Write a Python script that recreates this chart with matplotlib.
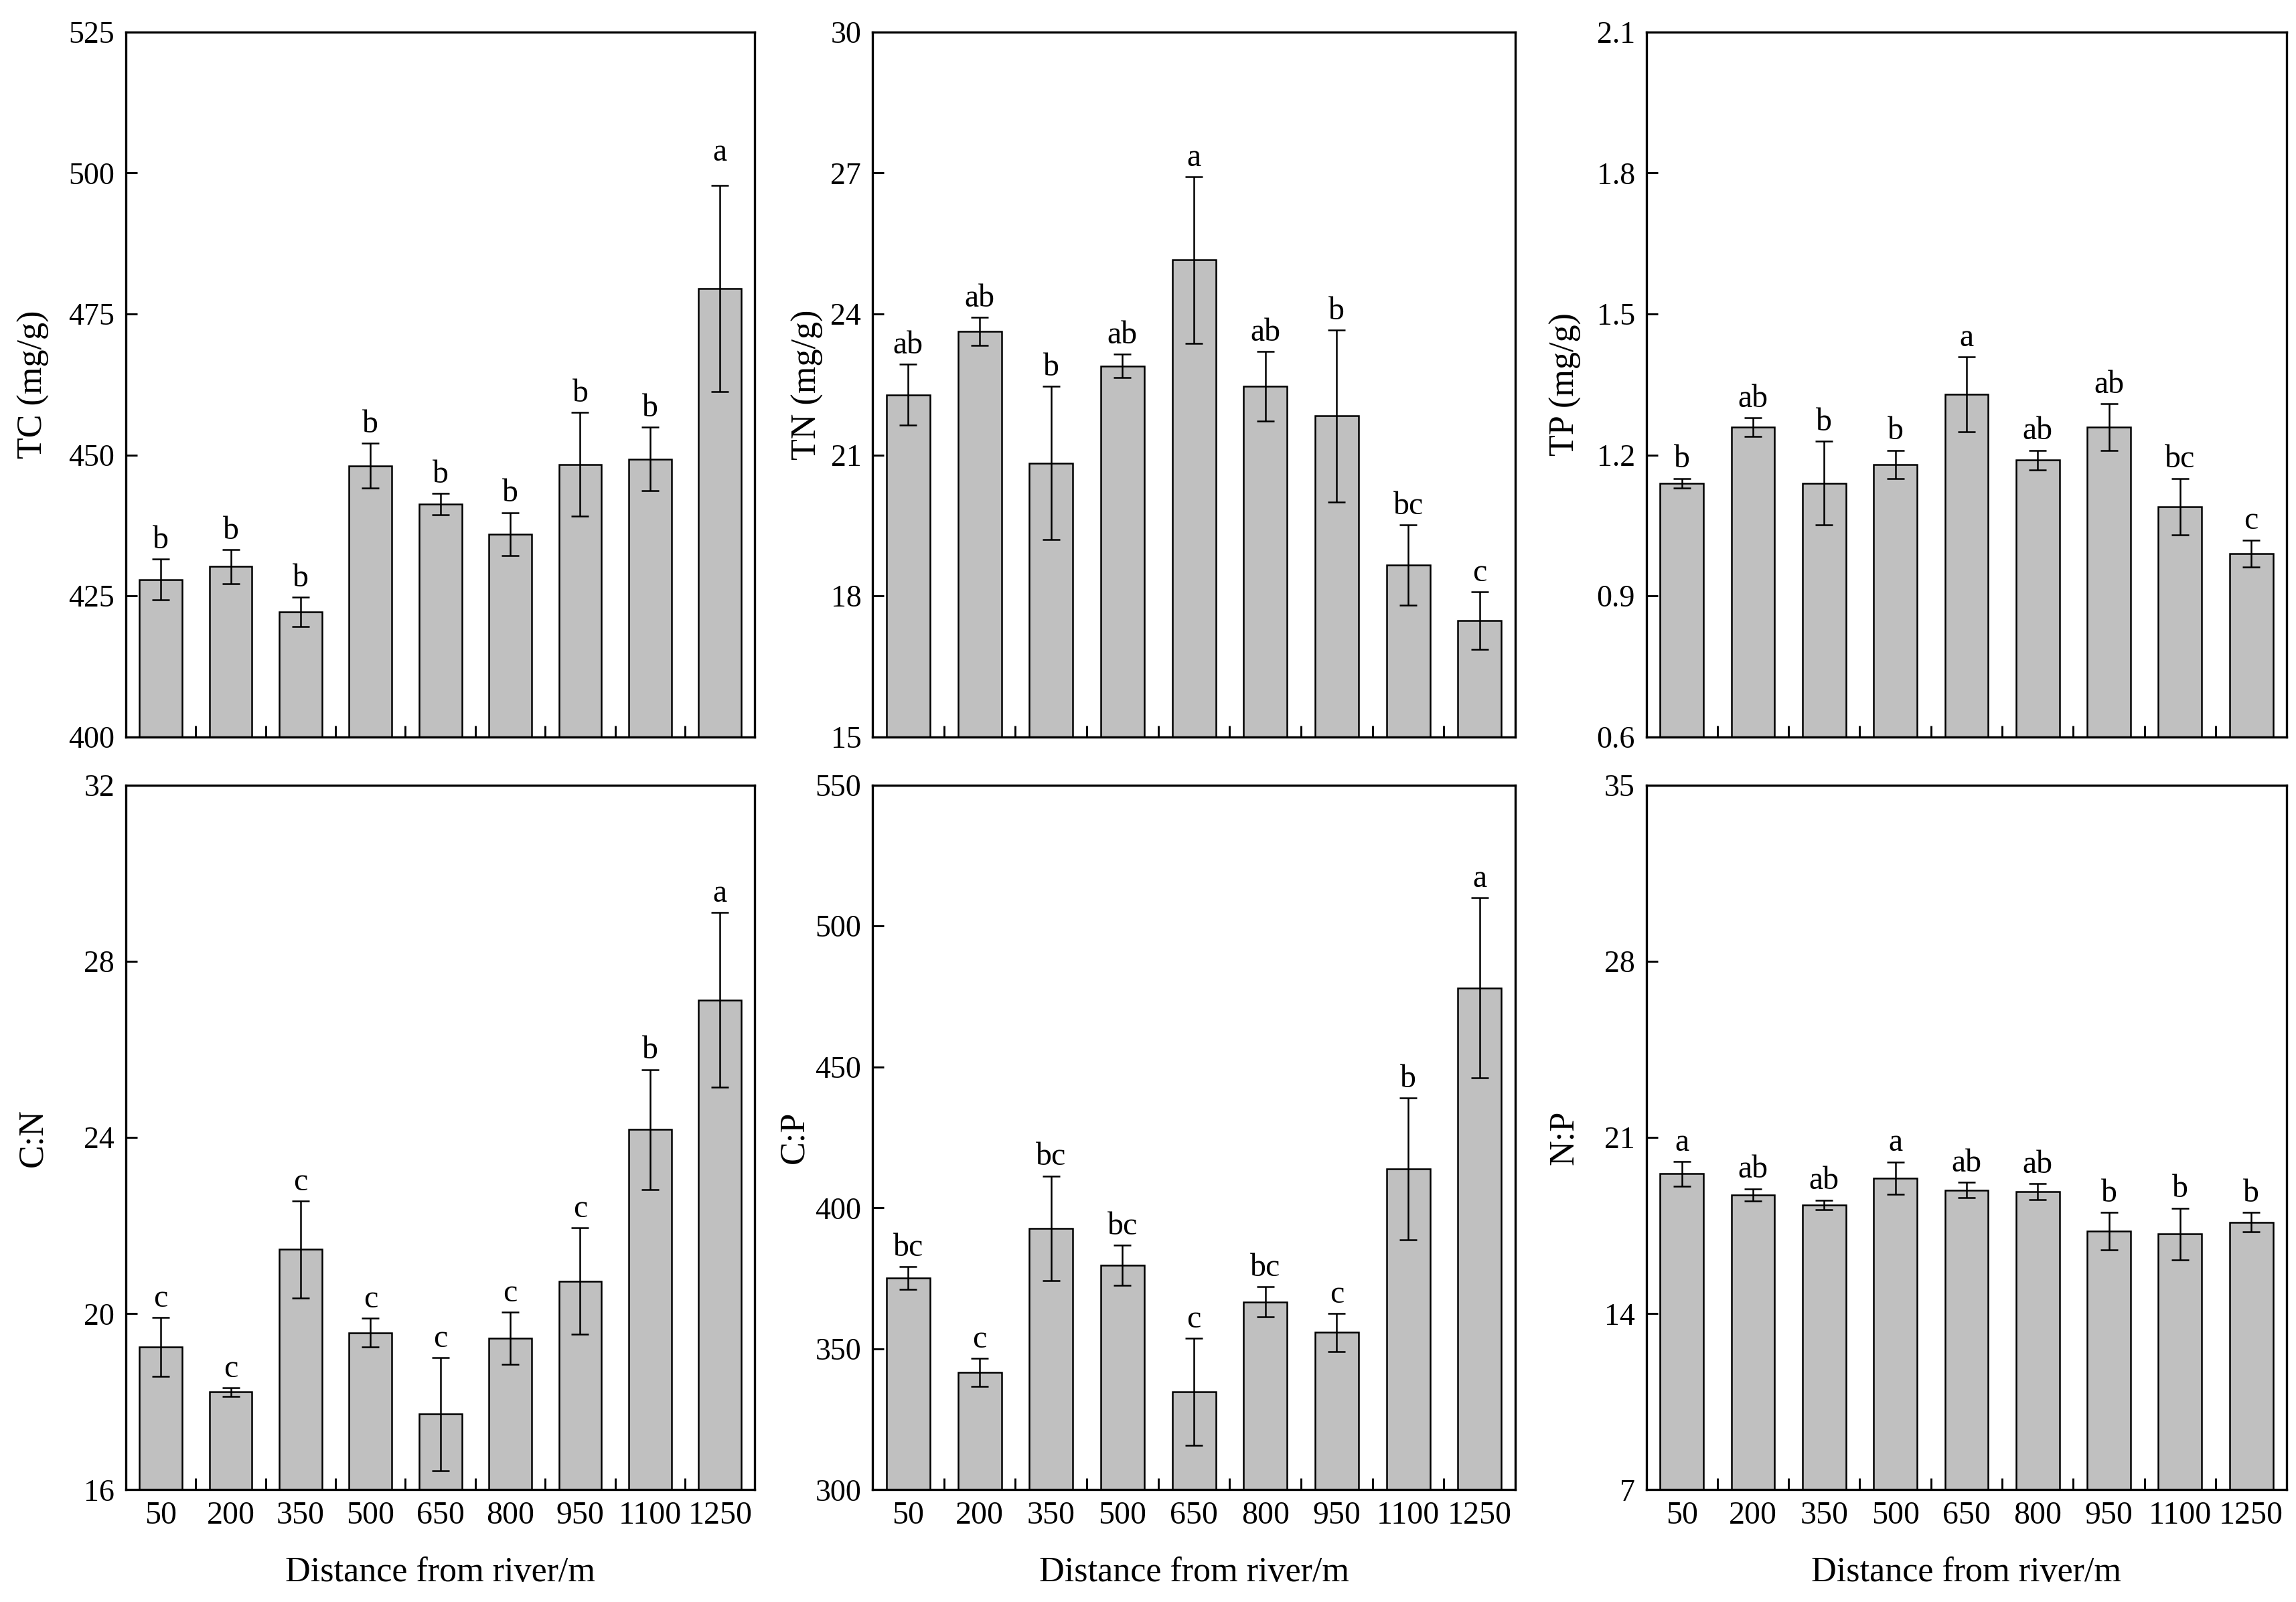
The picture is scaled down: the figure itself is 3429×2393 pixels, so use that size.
import numpy as np
import matplotlib
matplotlib.use('Agg')
import matplotlib.pyplot as plt
from matplotlib.ticker import FixedLocator

plt.rcParams['font.family'] = ['Liberation Serif', 'DejaVu Serif']
plt.rcParams['axes.linewidth'] = 0.8

dist = ['50', '200', '350', '500', '650', '800', '950', '1100', '1250']

# TC
tc = [427.9, 430.2, 422.2, 448.1, 441.3, 436.0, 448.3, 449.3, 479.5]
tc_err = [3.6, 3.0, 2.6, 4.0, 1.9, 3.8, 9.2, 5.6, 18.3]
tc_lab = ['b', 'b', 'b', 'b', 'b', 'b', 'b', 'b', 'a']
# TN
tn = [22.28, 23.63, 20.83, 22.89, 25.15, 22.46, 21.83, 18.66, 17.48]
tn_err = [0.65, 0.30, 1.63, 0.25, 1.77, 0.74, 1.83, 0.85, 0.61]
tn_lab = ['ab', 'ab', 'b', 'ab', 'a', 'ab', 'b', 'bc', 'c']
# TP
tp = [1.140, 1.259, 1.140, 1.180, 1.329, 1.189, 1.259, 1.090, 0.990]
tp_err = [0.010, 0.020, 0.089, 0.030, 0.080, 0.021, 0.050, 0.060, 0.029]
tp_lab = ['b', 'ab', 'b', 'b', 'a', 'ab', 'ab', 'bc', 'c']
# C:N
cn = [19.24, 18.22, 21.46, 19.57, 17.72, 19.44, 20.74, 24.18, 27.12]
cn_err = [0.67, 0.10, 1.10, 0.32, 1.28, 0.59, 1.21, 1.36, 1.98]
cn_lab = ['c', 'c', 'c', 'c', 'c', 'c', 'c', 'b', 'a']
# C:P
cp = [375.1, 341.6, 392.8, 379.6, 334.8, 366.7, 355.8, 413.8, 478.0]
cp_err = [4.0, 5.0, 18.5, 7.1, 18.9, 5.3, 6.7, 25.2, 31.9]
cp_lab = ['bc', 'c', 'bc', 'bc', 'c', 'bc', 'c', 'b', 'a']
# N:P
np_ = [19.56, 18.72, 18.32, 19.39, 18.91, 18.85, 17.27, 17.16, 17.63]
np_err = [0.49, 0.24, 0.19, 0.64, 0.30, 0.32, 0.75, 1.03, 0.39]
np_lab = ['a', 'ab', 'ab', 'a', 'ab', 'ab', 'b', 'b', 'b']

panels = [
    (tc, tc_err, tc_lab, 'TC (mg/g)', (400, 525), [400, 425, 450, 475, 500, 525], -0.121),
    (tn, tn_err, tn_lab, 'TN (mg/g)', (15, 30), [15, 18, 21, 24, 27, 30], -0.076),
    (tp, tp_err, tp_lab, 'TP (mg/g)', (0.6, 2.1), [0.6, 0.9, 1.2, 1.5, 1.8, 2.1], -0.101),
    (cn, cn_err, cn_lab, 'C:N', (16, 32), [16, 20, 24, 28, 32], -0.122),
    (cp, cp_err, cp_lab, 'C:P', (300, 550), [300, 350, 400, 450, 500, 550], -0.096),
    (np_, np_err, np_lab, 'N:P', (7, 35), [7, 14, 21, 28, 35], -0.103),
]
tick_fmt = ['{:.0f}', '{:.0f}', '{:.1f}', '{:.0f}', '{:.0f}', '{:.0f}']

fig = plt.figure(figsize=(3429 / 300, 2393 / 300), dpi=300)
lefts = [0.0548, 0.380, 0.717]
widths = [0.274, 0.280, 0.279]
bottoms = [0.540, 0.070]
h = 0.440

x = np.arange(len(dist))
for i, (vals, errs, labs, ylab, ylim, yt, lx) in enumerate(panels):
    r, c = divmod(i, 3)
    ax = fig.add_axes([lefts[c], bottoms[r], widths[c], h])
    ax.bar(x, vals, width=0.61, color='#c0c0c0', edgecolor='black', linewidth=0.6, zorder=2)
    ax.errorbar(x, vals, yerr=errs, fmt='none', ecolor='black', elinewidth=0.6,
                capsize=3.2, capthick=0.6, zorder=3)
    for xi, v, e, lb in zip(x, vals, errs, labs):
        # the 'a' on the TC panel sits a bit higher in the original
        dy = 6.5 if (i == 0 and lb == 'a') else 1.5
        ax.annotate(lb, (xi, v + e), xytext=(0, dy), textcoords='offset points',
                    ha='center', va='bottom', fontsize=11.5)
    ax.set_xlim(-0.5, len(dist) - 0.5)
    ax.set_ylim(*ylim)
    ax.set_yticks(yt)
    ax.set_yticklabels([tick_fmt[i].format(t) for t in yt])
    ax.set_xticks(x)
    ax.xaxis.set_minor_locator(FixedLocator(x[:-1] + 0.5))
    ax.tick_params(axis='x', which='major', length=0, pad=4, labelsize=11.5)
    ax.tick_params(axis='x', which='minor', direction='in', length=4, width=0.7)
    ax.tick_params(axis='y', which='major', direction='in', length=4, width=0.7, pad=4, labelsize=11)
    if r == 1:
        ax.set_xticklabels(dist)
        ax.set_xlabel('Distance from river/m', fontsize=12.5, va='baseline')
        ax.xaxis.set_label_coords(0.5, -0.130)
    else:
        ax.set_xticklabels([])
    ax.set_ylabel(ylab, fontsize=12.5)
    ax.yaxis.set_label_coords(lx, 0.5)

plt.savefig('out.png', dpi=300)
